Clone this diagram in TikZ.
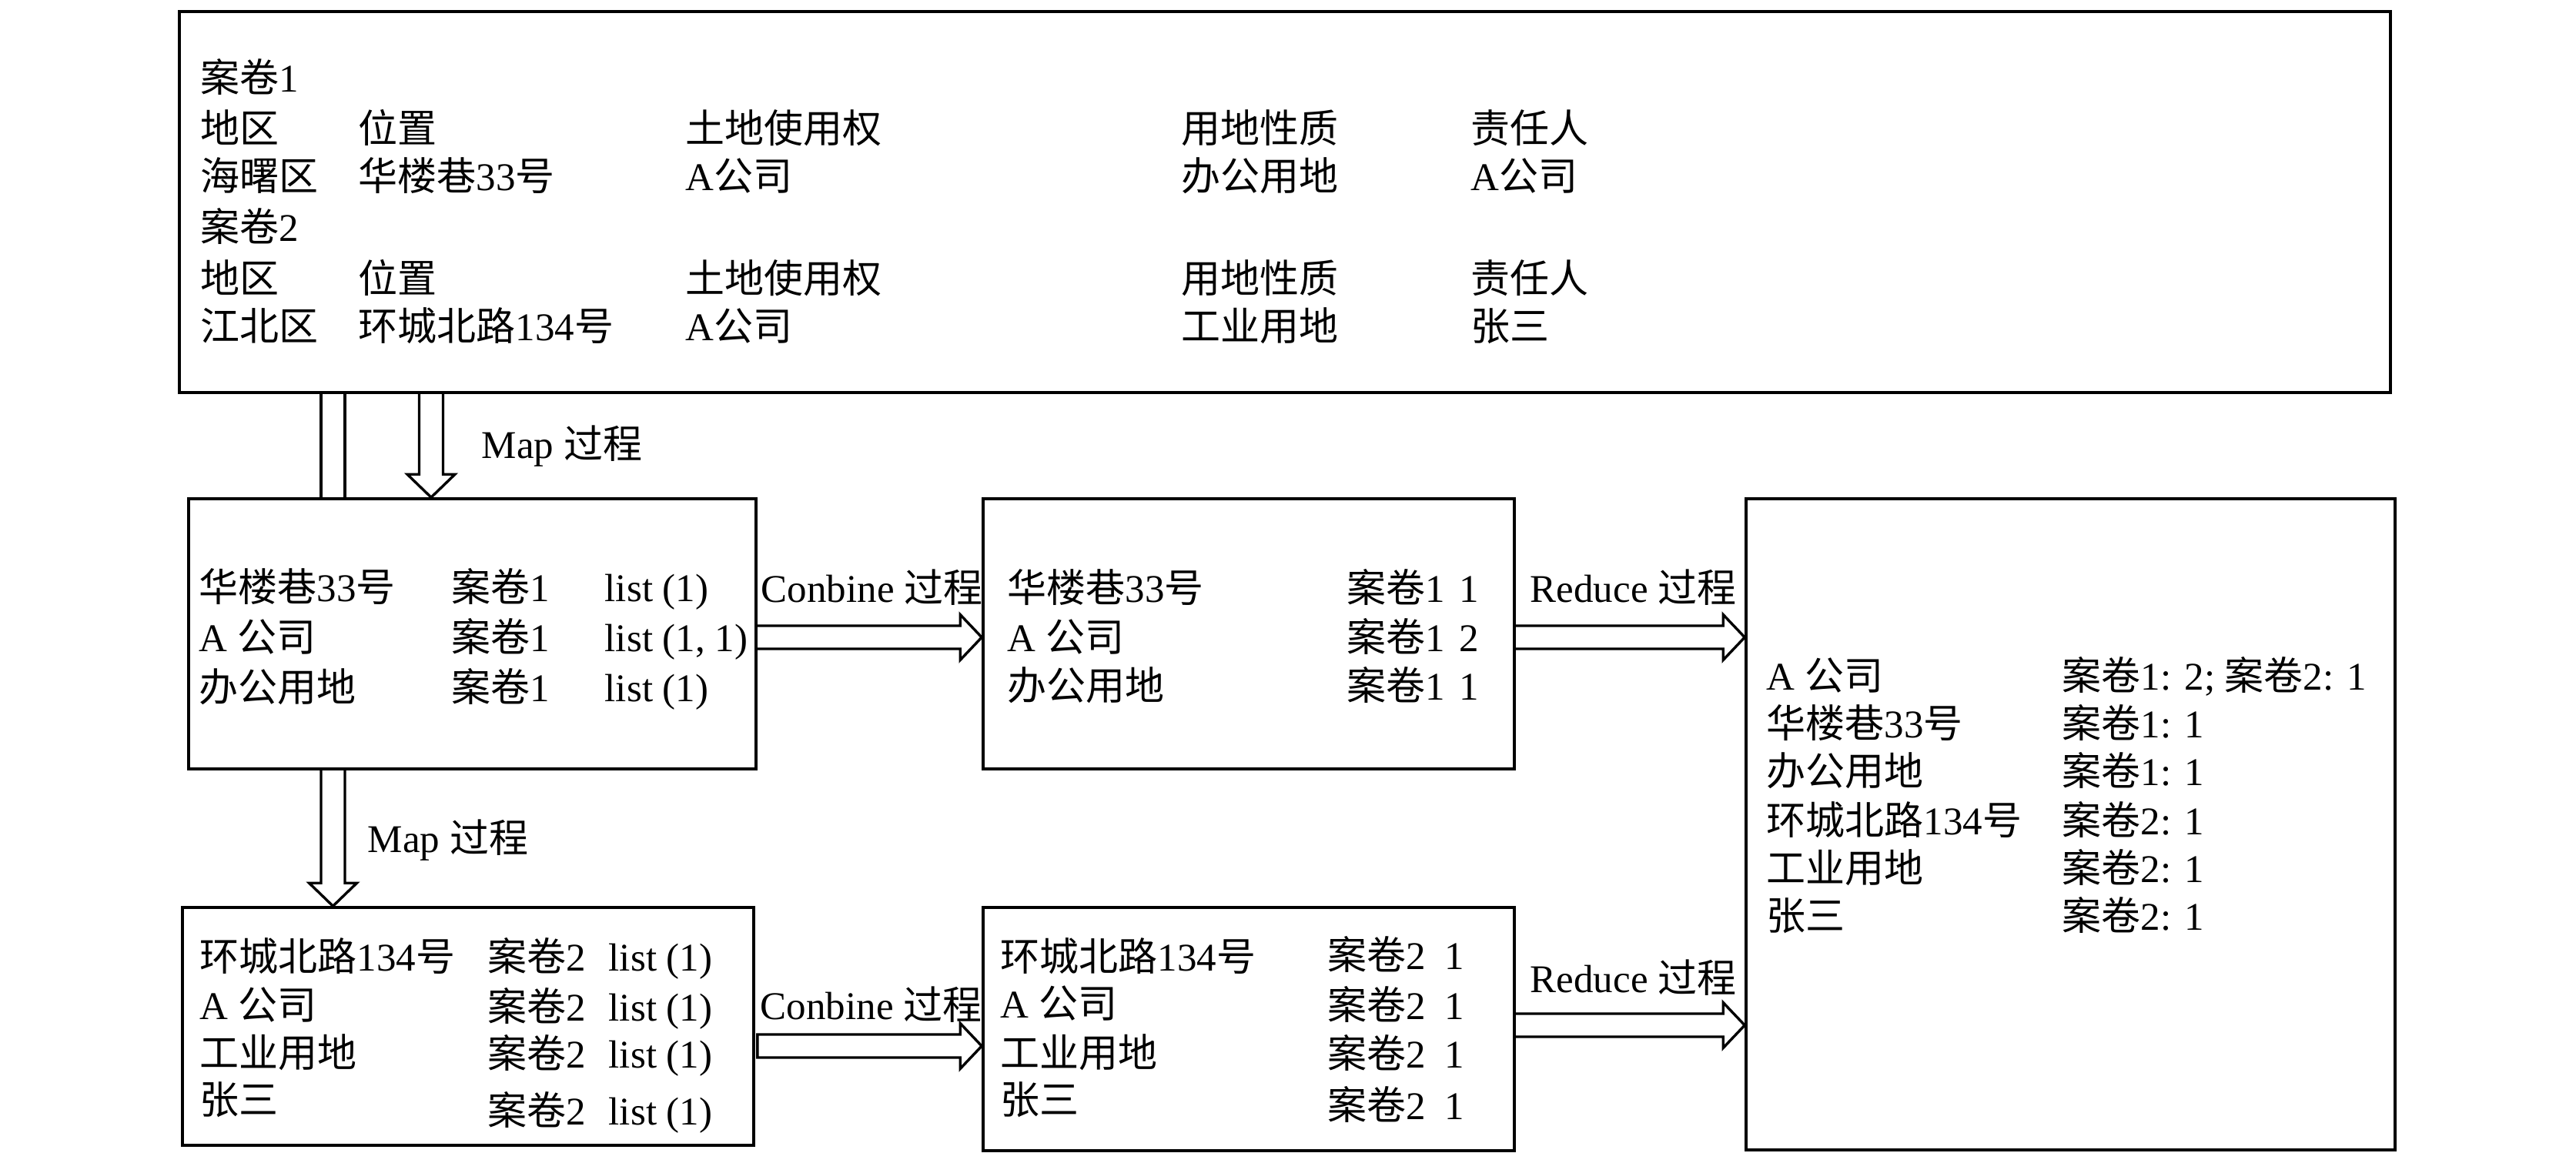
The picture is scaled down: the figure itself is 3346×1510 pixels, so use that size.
\documentclass[tikz,border=0pt]{standalone}
\usepackage{fontspec}
\setmainfont{Liberation Serif}
\newfontfamily\cjk{Noto Sans CJK SC}
\newcommand\zh[1]{{\cjk #1}}
\usetikzlibrary{calc}
\tikzset{
  box/.style={draw, line width=0.9pt, inner sep=0pt, fill=none},
  txt/.style={anchor=base west, inner sep=0pt, font=\fontsize{12.75pt}{15pt}\selectfont},
  fatarrow/.style={draw, line width=0.85pt, line join=miter}
}
% right-pointing hollow arrow, open at the start
\newcommand\rightfat[2]{\path[fatarrow] let \p1=(#1), \p2=(#2) in
  (\x1,\y1+3.75pt) -- (\x2-7pt,\y1+3.75pt) -- (\x2-7pt,\y1+7.375pt) -- (\x2,\y1)
  -- (\x2-7pt,\y1-7.375pt) -- (\x2-7pt,\y1-3.75pt) -- (\x1,\y1-3.75pt);}
% right-pointing hollow arrow, closed at the start
\newcommand\rightfatclosed[2]{\path[fatarrow] let \p1=(#1), \p2=(#2) in
  (\x1+0.75pt,\y1+3.75pt) -- (\x2-7pt,\y1+3.75pt) -- (\x2-7pt,\y1+7.375pt) -- (\x2,\y1)
  -- (\x2-7pt,\y1-7.375pt) -- (\x2-7pt,\y1-3.75pt) -- (\x1+0.75pt,\y1-3.75pt) -- cycle;}
% down-pointing hollow arrow, open at the start
\newcommand\downfat[2]{\path[fatarrow] let \p1=(#1), \p2=(#2) in
  (\x1-3.875pt,\y1) -- (\x1-3.875pt,\y2+7.5pt) -- (\x1-7.75pt,\y2+7.5pt) -- (\x1,\y2)
  -- (\x1+7.75pt,\y2+7.5pt) -- (\x1+3.875pt,\y2+7.5pt) -- (\x1+3.875pt,\y1);}
\begin{document}
\begin{tikzpicture}[x=0.25pt,y=-0.25pt]
\useasboundingbox[fill=white] (0,0) rectangle (3346,1510);

% boxes
\node[box, minimum width=718pt, minimum height=123.75pt] (topbox) at (1669,262.5) {};
\node[box, minimum width=184.25pt, minimum height=87.75pt] (map1) at (613.5,823.5) {};
\node[box, minimum width=172.5pt, minimum height=87.75pt] (comb1) at (1622,823.5) {};
\node[box, minimum width=210.75pt, minimum height=211.5pt] (reduce) at (2689.5,1071) {};
\node[box, minimum width=185.5pt, minimum height=77.25pt] (map2) at (608,1333.5) {};
\node[box, minimum width=172.5pt, minimum height=79pt] (comb2) at (1622,1337) {};

% top box text
\node[txt] (a1) at (260,119) {\zh{案卷}1};
\node[txt] (a2) at (260,185) {\zh{地区}};
\node[txt] (a3) at (465,185) {\zh{位置}};
\node[txt] (a4) at (890,185) {\zh{土地使用权}};
\node[txt] (a5) at (1534,185) {\zh{用地性质}};
\node[txt] (a6) at (1910,185) {\zh{责任人}};
\node[txt] (a7) at (260,247) {\zh{海曙区}};
\node[txt] (a8) at (465,247) {\zh{华楼巷}33\zh{号}};
\node[txt] (a9) at (890,247) {A\zh{公司}};
\node[txt] (a10) at (1534,247) {\zh{办公用地}};
\node[txt] (a11) at (1910,247) {A\zh{公司}};
\node[txt] (a12) at (260,313) {\zh{案卷}2};
\node[txt] (a13) at (260,380) {\zh{地区}};
\node[txt] (a14) at (465,380) {\zh{位置}};
\node[txt] (a15) at (890,380) {\zh{土地使用权}};
\node[txt] (a16) at (1534,380) {\zh{用地性质}};
\node[txt] (a17) at (1910,380) {\zh{责任人}};
\node[txt] (a18) at (260,442) {\zh{江北区}};
\node[txt] (a19) at (465,442) {\zh{环城北路}134\zh{号}};
\node[txt] (a20) at (890,442) {A\zh{公司}};
\node[txt] (a21) at (1534,442) {\zh{工业用地}};
\node[txt] (a22) at (1910,442) {\zh{张三}};

% map box 1
\node[txt] (b1) at (258,781) {\zh{华楼巷}33\zh{号}};
\node[txt] (b2) at (586,781) {\zh{案卷}1};
\node[txt] (b3) at (785,781) {list (1)};
\node[txt] (b4) at (258,846) {A \zh{公司}};
\node[txt] (b5) at (586,846) {\zh{案卷}1};
\node[txt] (b6) at (785,846) {list (1, 1)};
\node[txt] (b7) at (258,911) {\zh{办公用地}};
\node[txt] (b8) at (586,911) {\zh{案卷}1};
\node[txt] (b9) at (785,911) {list (1)};

% combine box 1
\node[txt] (c1) at (1308,782) {\zh{华楼巷}33\zh{号}};
\node[txt] (c2) at (1749,782) {\zh{案卷}1\hspace{4.5pt}1};
\node[txt] (c3) at (1308,846) {A \zh{公司}};
\node[txt] (c4) at (1749,846) {\zh{案卷}1\hspace{4.5pt}2};
\node[txt] (c5) at (1308,909) {\zh{办公用地}};
\node[txt] (c6) at (1749,909) {\zh{案卷}1\hspace{4.5pt}1};

% map box 2
\node[txt] (d1) at (259,1261) {\zh{环城北路}134\zh{号}};
\node[txt] (d2) at (633,1261) {\zh{案卷}2};
\node[txt] (d3) at (790,1261) {list (1)};
\node[txt] (d4) at (259,1324) {A \zh{公司}};
\node[txt] (d5) at (633,1326) {\zh{案卷}2};
\node[txt] (d6) at (790,1326) {list (1)};
\node[txt] (d7) at (259,1386) {\zh{工业用地}};
\node[txt] (d8) at (633,1387) {\zh{案卷}2};
\node[txt] (d9) at (790,1387) {list (1)};
\node[txt] (d10) at (259,1447) {\zh{张三}};
\node[txt] (d11) at (633,1461) {\zh{案卷}2};
\node[txt] (d12) at (790,1461) {list (1)};

% combine box 2
\node[txt] (e1) at (1299,1261) {\zh{环城北路}134\zh{号}};
\node[txt] (e2) at (1724,1259) {\zh{案卷}2\hspace{6pt}1};
\node[txt] (e3) at (1299,1322) {A \zh{公司}};
\node[txt] (e4) at (1724,1324) {\zh{案卷}2\hspace{6pt}1};
\node[txt] (e5) at (1299,1386) {\zh{工业用地}};
\node[txt] (e6) at (1724,1387) {\zh{案卷}2\hspace{6pt}1};
\node[txt] (e7) at (1299,1447) {\zh{张三}};
\node[txt] (e8) at (1724,1454) {\zh{案卷}2\hspace{6pt}1};

% reduce box
\node[txt] (f1) at (2294,896) {A \zh{公司}};
\node[txt] (f2) at (2678,896) {\zh{案卷}1: 2; \zh{案卷}2: 1};
\node[txt] (f3) at (2294,958) {\zh{华楼巷}33\zh{号}};
\node[txt] (f4) at (2678,958) {\zh{案卷}1: 1};
\node[txt] (f5) at (2294,1020) {\zh{办公用地}};
\node[txt] (f6) at (2678,1020) {\zh{案卷}1: 1};
\node[txt] (f7) at (2294,1084) {\zh{环城北路}134\zh{号}};
\node[txt] (f8) at (2678,1084) {\zh{案卷}2: 1};
\node[txt] (f9) at (2294,1146) {\zh{工业用地}};
\node[txt] (f10) at (2678,1146) {\zh{案卷}2: 1};
\node[txt] (f11) at (2294,1208) {\zh{张三}};
\node[txt] (f12) at (2678,1208) {\zh{案卷}2: 1};

% arrow labels
\node[txt] (l1) at (625,595) {Map \zh{过程}};
\node[txt] (l2) at (477,1107) {Map \zh{过程}};
\node[txt] (l3) at (988,782) {Conbine \zh{过程}};
\node[txt] (l4) at (1987,782) {Reduce \zh{过程}};
\node[txt] (l5) at (987,1324) {Conbine \zh{过程}};
\node[txt] (l6) at (1987,1289) {Reduce \zh{过程}};

% plain double line from top box to map box 1
\draw[line width=0.85pt] (topbox.south -| 417,0) -- (map1.north -| 417,0);
\draw[line width=0.85pt] (topbox.south -| 448,0) -- (map1.north -| 448,0);

% hollow arrows
\downfat{topbox.south -| 560,0}{map1.north -| 560,0}
\downfat{map1.south -| 432.5,0}{map2.north -| 432.5,0}
\rightfat{map1.east |- 0,828}{comb1.west |- 0,828}
\rightfat{comb1.east |- 0,828}{reduce.west |- 0,828}
\rightfatclosed{map2.east |- 0,1359}{comb2.west |- 0,1359}
\rightfat{comb2.east |- 0,1332}{reduce.west |- 0,1332}
\end{tikzpicture}
\end{document}
